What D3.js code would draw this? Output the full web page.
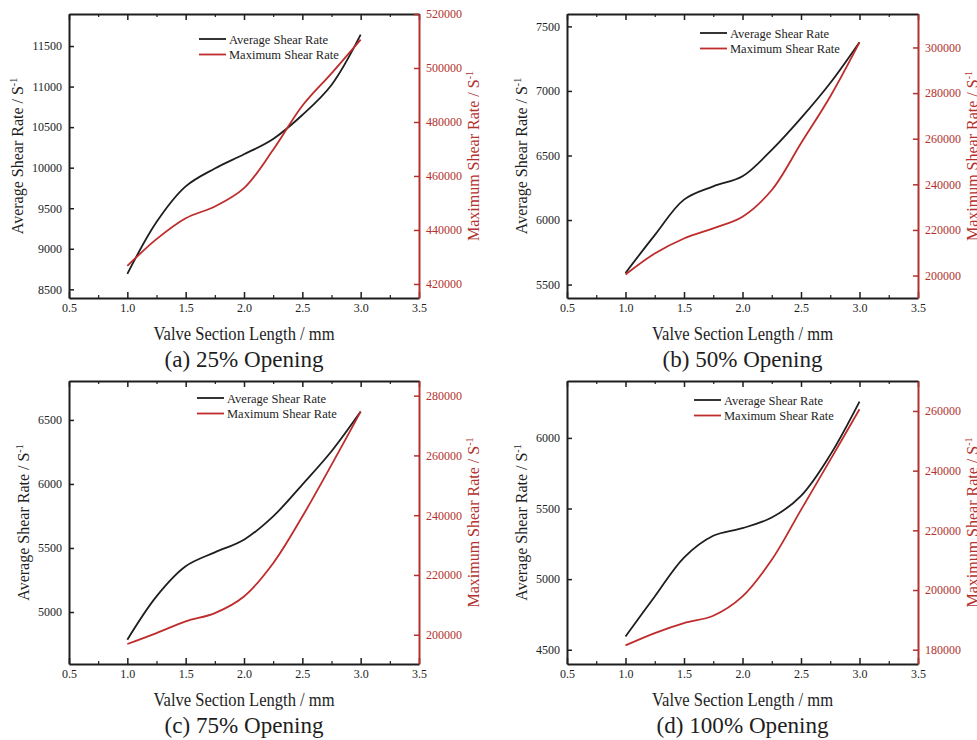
<!DOCTYPE html>
<html>
<head>
<meta charset="utf-8">
<script src="https://cdn.jsdelivr.net/npm/d3@7"></script>
<style>
  html, body { margin: 0; padding: 0; background: #fff; }
  svg { display: block; font-family: "Liberation Serif", "Times New Roman", serif; }
</style>
</head>
<body>
<svg id="chart" width="977" height="740"></svg>
<script>
// ---------- DATA ----------
const xValues = [1.0, 1.25, 1.5, 1.75, 2.0, 2.25, 2.5, 2.75, 3.0];
const xTicks = [0.5, 1.0, 1.5, 2.0, 2.5, 3.0, 3.5];
const xMinorTicks = [0.75, 1.25, 1.75, 2.25, 2.75, 3.25];

const captions = ["(a) 25% Opening", "(b) 50% Opening", "(c) 75% Opening", "(d) 100% Opening"];
const seriesNames = ["Average Shear Rate", "Maximum Shear Rate"];

const avg25 = [8690, 9330, 9770, 9990, 10165, 10355, 10650, 11020, 11640];
const max25 = [426700, 436600, 444350, 448700, 455500, 469700, 486000, 498000, 510500];

const avg50 = [5590, 5883, 6158, 6261, 6339, 6544, 6790, 7062, 7378];
const max50 = [200440, 209660, 216250, 220700, 225800, 237500, 258000, 278500, 302200];

const avg75 = [4784, 5122, 5357, 5466, 5565, 5747, 5995, 6255, 6565];
const max75 = [196900, 200560, 204460, 207240, 212800, 223940, 239550, 256820, 274650];

const avg100 = [4594, 4877, 5153, 5307, 5361, 5436, 5590, 5880, 6257];
const max100 = [181450, 185580, 188930, 191380, 197860, 210130, 226870, 243600, 260560];

const leftDomains = [[8393, 11895], [5396, 7596], [4594, 6804], [4399, 6403]];
const rightDomains = [[414800, 520000], [190160, 314670], [190200, 284900], [175210, 270040]];
const leftTicks = [
  [8500, 9000, 9500, 10000, 10500, 11000, 11500],
  [5500, 6000, 6500, 7000, 7500],
  [5000, 5500, 6000, 6500],
  [4500, 5000, 5500, 6000]
];
const rightTicks = [
  [420000, 440000, 460000, 480000, 500000, 520000],
  [200000, 220000, 240000, 260000, 280000, 300000],
  [200000, 220000, 240000, 260000, 280000],
  [180000, 200000, 220000, 240000, 260000]
];
const avgSeries = [avg25, avg50, avg75, avg100];
const maxSeries = [max25, max50, max75, max100];

// ---------- LAYOUT ----------
const panels = [
  { left: 69,  right: 419, top: 14,  bottom: 298, legDx: 130, legDy: 25, capY: 367, capW: 159 },
  { left: 567, right: 918, top: 14,  bottom: 298, legDx: 133, legDy: 19, capY: 367, capW: 160 },
  { left: 69,  right: 419, top: 381, bottom: 664, legDx: 128, legDy: 17, capY: 733, capW: 159 },
  { left: 567, right: 918, top: 381, bottom: 664, legDx: 127, legDy: 19, capY: 733, capW: 172 }
];
const BLACK = "#1e1e1e";
const RED = "#b3312e";
const LINE_RED = "#be2c2c";

const svg = d3.select("#chart");

panels.forEach((p, i) => {
  const g = svg.append("g");
  const x = d3.scaleLinear().domain([0.5, 3.5]).range([p.left, p.right]);
  const yL = d3.scaleLinear().domain(leftDomains[i]).range([p.bottom, p.top]);
  const yR = d3.scaleLinear().domain(rightDomains[i]).range([p.bottom, p.top]);

  const lineL = d3.line().x((d, k) => x(xValues[k])).y(d => yL(d)).curve(d3.curveCatmullRom.alpha(0.5));
  const lineR = d3.line().x((d, k) => x(xValues[k])).y(d => yR(d)).curve(d3.curveCatmullRom.alpha(0.5));

  g.append("path").attr("d", lineL(avgSeries[i])).attr("fill", "none")
    .attr("stroke", BLACK).attr("stroke-width", 1.8);
  g.append("path").attr("d", lineR(maxSeries[i])).attr("fill", "none")
    .attr("stroke", LINE_RED).attr("stroke-width", 1.8);

  const styleAxis = (sel, color) => {
    sel.selectAll(".domain").attr("stroke", color).attr("stroke-width", 2);
    sel.selectAll(".tick line").attr("stroke", color).attr("stroke-width", 1.5);
    sel.selectAll(".tick text").attr("fill", color)
      .style("font-family", "'Liberation Serif', serif").style("font-size", "12px");
  };

  const gb = g.append("g").attr("transform", `translate(0,${p.bottom})`)
    .call(d3.axisBottom(x).tickValues(xTicks).tickFormat(d3.format(".1f"))
      .tickSizeInner(-6).tickSizeOuter(0).tickPadding(5));
  styleAxis(gb, BLACK);
  g.append("g").attr("transform", `translate(0,${p.bottom})`)
    .call(d3.axisBottom(x).tickValues(xMinorTicks).tickFormat("").tickSizeInner(-3).tickSizeOuter(0))
    .call(s => { s.select(".domain").remove(); s.selectAll(".tick line").attr("stroke", BLACK).attr("stroke-width", 1.2); });

  const gt = g.append("g").attr("transform", `translate(0,${p.top})`)
    .call(d3.axisTop(x).tickValues(xTicks).tickFormat("").tickSizeInner(-6).tickSizeOuter(0));
  styleAxis(gt, BLACK);
  g.append("g").attr("transform", `translate(0,${p.top})`)
    .call(d3.axisTop(x).tickValues(xMinorTicks).tickFormat("").tickSizeInner(-3).tickSizeOuter(0))
    .call(s => { s.select(".domain").remove(); s.selectAll(".tick line").attr("stroke", BLACK).attr("stroke-width", 1.2); });

  const gl = g.append("g").attr("transform", `translate(${p.left},0)`)
    .call(d3.axisLeft(yL).tickValues(leftTicks[i]).tickFormat(d3.format("d"))
      .tickSizeInner(-5).tickSizeOuter(0).tickPadding(7));
  styleAxis(gl, BLACK);

  const gr = g.append("g").attr("transform", `translate(${p.right},0)`)
    .call(d3.axisRight(yR).tickValues(rightTicks[i]).tickFormat(d3.format("d"))
      .tickSizeInner(-5).tickSizeOuter(0).tickPadding(7));
  styleAxis(gr, RED);

  let lw = 0; gl.selectAll(".tick text").each(function () { lw = Math.max(lw, this.getBBox().width); });
  let rw = 0; gr.selectAll(".tick text").each(function () { rw = Math.max(rw, this.getBBox().width); });

  const cy = (p.top + p.bottom) / 2;
  const cx = (p.left + p.right) / 2;

  const tl = g.append("text")
    .attr("transform", `translate(${p.left - 7 - lw - 9},${cy}) rotate(-90)`)
    .attr("text-anchor", "middle").attr("fill", BLACK)
    .style("font-size", "16px");
  tl.append("tspan").text("Average Shear Rate / S");
  tl.append("tspan").text("-1").attr("dy", -6).style("font-size", "10px");

  const tr = g.append("text")
    .attr("transform", `translate(${p.right + 7 + rw + 17},${cy}) rotate(-90)`)
    .attr("text-anchor", "middle").attr("fill", RED)
    .style("font-size", "16px");
  tr.append("tspan").text("Maximum Shear Rate / S");
  tr.append("tspan").text("-1").attr("dy", -6).style("font-size", "10px");

  g.append("text").attr("x", cx).attr("y", p.bottom + 42)
    .attr("text-anchor", "middle").attr("fill", BLACK)
    .attr("textLength", 181).attr("lengthAdjust", "spacingAndGlyphs")
    .style("font-size", "18px").text("Valve Section Length / mm");

  g.append("text").attr("x", cx).attr("y", p.capY)
    .attr("text-anchor", "middle").attr("fill", BLACK)
    .attr("textLength", p.capW).attr("lengthAdjust", "spacingAndGlyphs")
    .style("font-size", "24px").text(captions[i]);

  const lx = p.left + p.legDx, ly = p.top + p.legDy;
  [BLACK, LINE_RED].forEach((c, k) => {
    const yy = ly + k * 15.5;
    g.append("line").attr("x1", lx).attr("x2", lx + 27).attr("y1", yy).attr("y2", yy)
      .attr("stroke", c).attr("stroke-width", 1.8);
    g.append("text").attr("x", lx + 30).attr("y", yy + 4.5)
      .attr("fill", BLACK).style("font-size", "12.5px").text(seriesNames[k]);
  });
});
</script>
</body>
</html>
